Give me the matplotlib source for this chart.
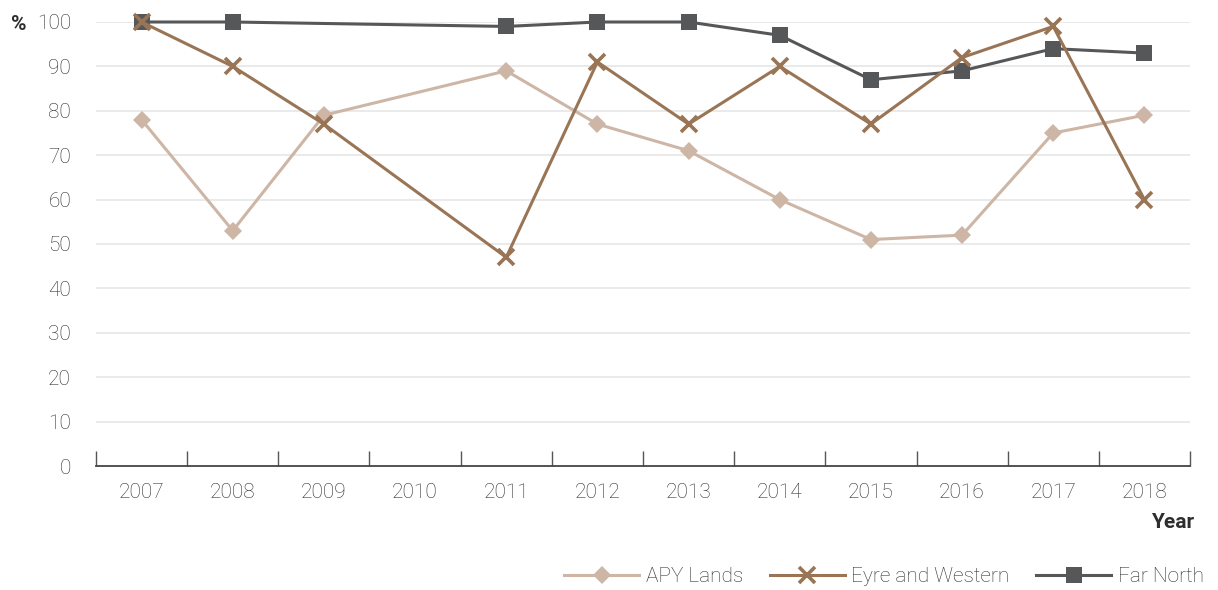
import numpy as np
import matplotlib
matplotlib.use("Agg")
import matplotlib.pyplot as plt

plt.rcParams["font.family"] = ["Roboto", "DejaVu Sans"]
plt.rcParams["font.weight"] = "light"

years = ["2007", "2008", "2009", "2010", "2011", "2012",
         "2013", "2014", "2015", "2016", "2017", "2018"]
apy_lands = [78, 53, 79, None, 89, 77, 71, 60, 51, 52, 75, 79]
eyre_western = [100, 90, 77, None, 47, 91, 77, 90, 77, 92, 99, 60]
far_north = [100, 100, None, None, 99, 100, 100, 97, 87, 89, 94, 93]

TEXT = "#2e2e2e"
GRID = "#e6e6e6"
FS = 15


def present(values):
    # skip missing years so the line joins the neighbouring points
    idx = [i for i, v in enumerate(values) if v is not None]
    return idx, [values[i] for i in idx]


fig = plt.figure(figsize=(12.18, 5.90), dpi=100, facecolor="white")
ax = fig.add_axes([96 / 1218, 1 - 466 / 590, 1094 / 1218, 444 / 590])

series = [
    ("APY Lands", apy_lands, "#cdb6a6", "D", 9, 2),
    ("Far North", far_north, "#555759", "s", 12, 3),
    ("Eyre and Western", eyre_western, "#997556", "x", 12, 4),
]
handles = {}
for name, vals, color, marker, ms, z in series:
    xs, ys = present(vals)
    (h,) = ax.plot(xs, ys, color=color, lw=2.2, marker=marker, markersize=ms,
                   markeredgewidth=2.6 if marker == "x" else 0,
                   markerfacecolor=color, markeredgecolor=color,
                   zorder=z, clip_on=False, label=name)
    handles[name] = h

ax.set_xlim(-0.5, len(years) - 0.5)
ax.set_ylim(0, 100)
ax.set_yticks(np.arange(0, 101, 10))
ax.set_yticklabels([str(v) for v in range(0, 101, 10)], fontsize=FS, color=TEXT)
for y in range(10, 101, 10):
    ax.axhline(y, color=GRID, lw=1.2, zorder=0)

ax.set_xticks(np.arange(len(years)))
ax.set_xticklabels(years, fontsize=FS, color=TEXT)
ax.set_xticks(np.arange(-0.5, len(years)), minor=True)
ax.tick_params(axis="x", which="major", length=0, pad=12)
ax.tick_params(axis="x", which="minor", direction="in", length=11,
               width=1, color="#555555")
ax.tick_params(axis="y", length=0, pad=18)

for s in ("top", "right", "left"):
    ax.spines[s].set_visible(False)
ax.spines["bottom"].set_color("#444444")
ax.spines["bottom"].set_linewidth(1.3)

fig.text(11 / 1218, 1 - 25 / 590, "%", fontsize=FS, fontweight="bold",
         color=TEXT, va="center", ha="left")
fig.text(1194 / 1218, 1 - 522 / 590, "Year", fontsize=FS, fontweight="bold",
         color=TEXT, va="center", ha="right")

order = ["APY Lands", "Eyre and Western", "Far North"]
fig.legend([handles[n] for n in order], order, loc="center right",
           bbox_to_anchor=(1212 / 1218, 1 - 577 / 590), ncol=3, frameon=False,
           fontsize=FS, labelcolor=TEXT, handlelength=3.6, handletextpad=0.3,
           columnspacing=1.3, borderaxespad=0)

fig.savefig("out.png", dpi=100, facecolor="white")
